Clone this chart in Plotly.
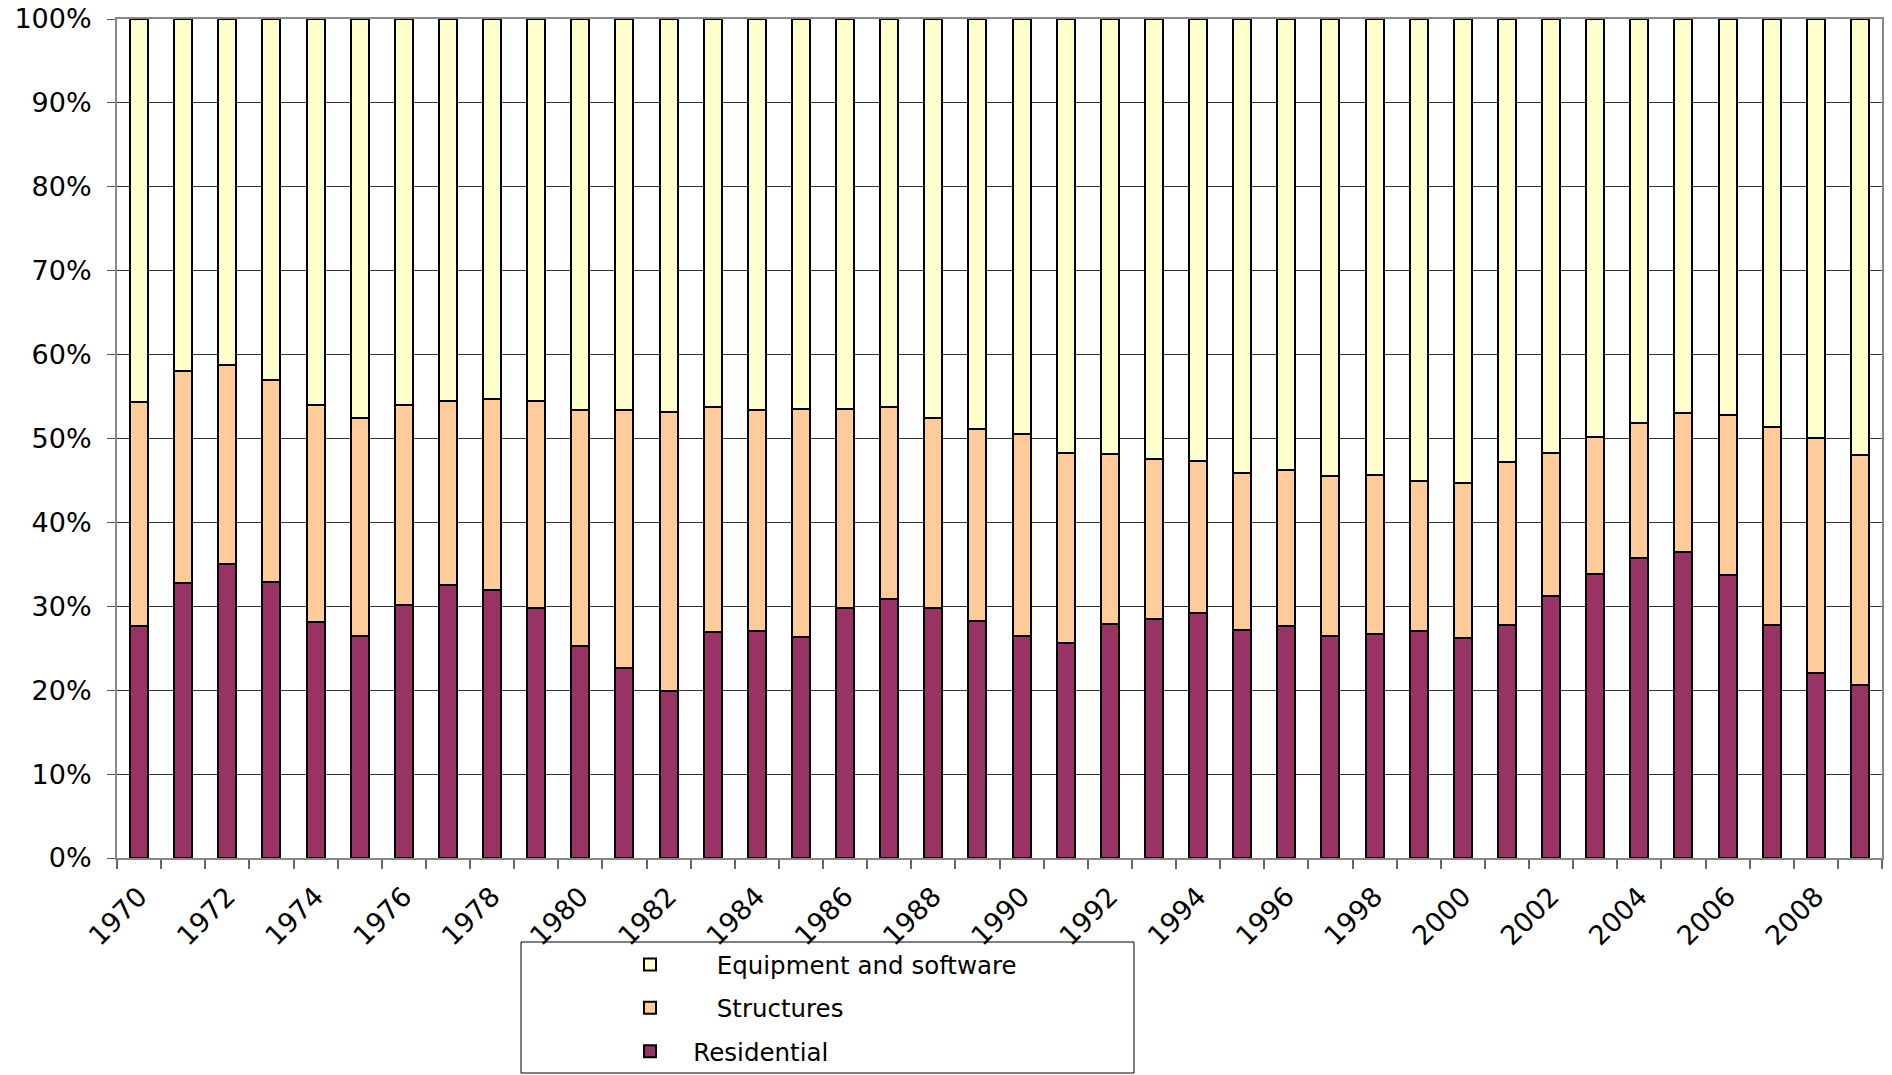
import plotly.graph_objects as go

years = list(range(1970, 2010))

residential = [27.6, 32.8, 35.1, 32.9, 28.1, 26.5, 30.1, 32.5, 31.9, 29.8,
               25.3, 22.6, 19.9, 26.9, 27.0, 26.3, 29.8, 30.9, 29.8, 28.2,
               26.5, 25.6, 27.9, 28.5, 29.2, 27.2, 27.6, 26.5, 26.7, 27.0,
               26.2, 27.8, 31.2, 33.8, 35.7, 36.5, 33.7, 27.8, 22.0, 20.6]

structures = [26.8, 25.2, 23.7, 24.1, 25.9, 26.0, 23.9, 22.0, 22.8, 24.7,
              28.1, 30.8, 33.2, 26.9, 26.4, 27.2, 23.7, 22.9, 22.7, 22.9,
              24.0, 22.7, 20.2, 19.0, 18.1, 18.7, 18.6, 19.0, 18.9, 17.9,
              18.5, 19.4, 17.1, 16.4, 16.1, 16.5, 19.1, 23.6, 28.1, 27.4]

equipment = [45.6, 42.0, 41.2, 43.0, 46.0, 47.5, 46.0, 45.5, 45.3, 45.5,
             46.6, 46.6, 46.9, 46.2, 46.6, 46.5, 46.5, 46.2, 47.5, 48.9,
             49.5, 51.7, 51.9, 52.5, 52.7, 54.1, 53.8, 54.5, 54.4, 55.1,
             55.3, 52.8, 51.7, 49.8, 48.2, 47.0, 47.2, 48.6, 49.9, 52.0]

label_years = list(range(1970, 2010, 2))
y_ticks = list(range(0, 101, 10))

FONT = "Verdana, DejaVu Sans, sans-serif"
W, H = 1892, 1075
ML, MT = 117, 19
PLOT_R, PLOT_B = 1882, 858
MR, MB = W - PLOT_R, H - PLOT_B
PW = W - ML - MR
PH = H - MT - MB

def px_x(p):
    return (p - ML) / PW

def px_y(p):
    return (H - MB - p) / PH

NB = "\u00a0"
series = [
    (NB * 3 + "Residential", residential, "#993366", "r", 3),
    (NB * 6 + "Structures", structures, "#FFCC99", "s", 2),
    (NB * 6 + "Equipment and software", equipment, "#FFFFCC", "e", 1),
]

fig = go.Figure()
for name, vals, color, grp, rank in series:
    fig.add_trace(go.Bar(
        x=years, y=vals, name=name, width=0.41,
        legendgroup=grp, legendrank=rank,
        marker=dict(color=color, line=dict(color="black", width=2)),
    ))

fig.update_layout(
    width=W, height=H,
    barmode="stack",
    plot_bgcolor="white", paper_bgcolor="white",
    margin=dict(l=ML, r=MR, t=MT, b=MB, autoexpand=False),
    font=dict(family=FONT, color="black"),
    showlegend=True,
    legend=dict(
        x=px_x(630), y=px_y(942), xanchor="left", yanchor="top",
        traceorder="grouped", tracegroupgap=8.5,
        font=dict(size=24.5, family=FONT),
        bgcolor="rgba(0,0,0,0)", borderwidth=0,
    ),
    shapes=[dict(
        type="rect", xref="paper", yref="paper",
        x0=px_x(521), x1=px_x(1134), y0=px_y(1073), y1=px_y(942),
        line=dict(color="black", width=1), fillcolor="rgba(0,0,0,0)",
        layer="below",
    )],
)

fig.update_xaxes(
    range=[1969.5, 2009.5], automargin=False,
    tickmode="array", tickvals=label_years, ticktext=[str(y) for y in label_years],
    ticks="", tickangle=-45, tickfont=dict(size=27, family=FONT),
    ticklabelstandoff=10, ticklabeloverflow="allow",
    showgrid=False, zeroline=False,
    showline=True, linecolor="#888888", linewidth=2, mirror=True,
    minor=dict(tickmode="linear", tick0=1969.5, dtick=1, ticks="outside",
               ticklen=9, tickcolor="#666666", tickwidth=2, showgrid=False),
)

fig.update_yaxes(
    range=[0, 100], automargin=False,
    tickmode="array",
    tickvals=y_ticks,
    ticktext=[f"{v}%" for v in y_ticks],
    tickfont=dict(size=27, family=FONT),
    ticks="outside", ticklen=8, tickcolor="#555555",
    ticklabelstandoff=10, ticklabeloverflow="allow",
    showgrid=True, gridcolor="#333333", gridwidth=1,
    zeroline=False,
    showline=True, linecolor="#888888", linewidth=2, mirror=True,
)

fig.write_html(
    "out.html",
    config={"displayModeBar": False},
    post_script="document.body.style.margin='0';document.body.style.overflow='hidden';",
)
